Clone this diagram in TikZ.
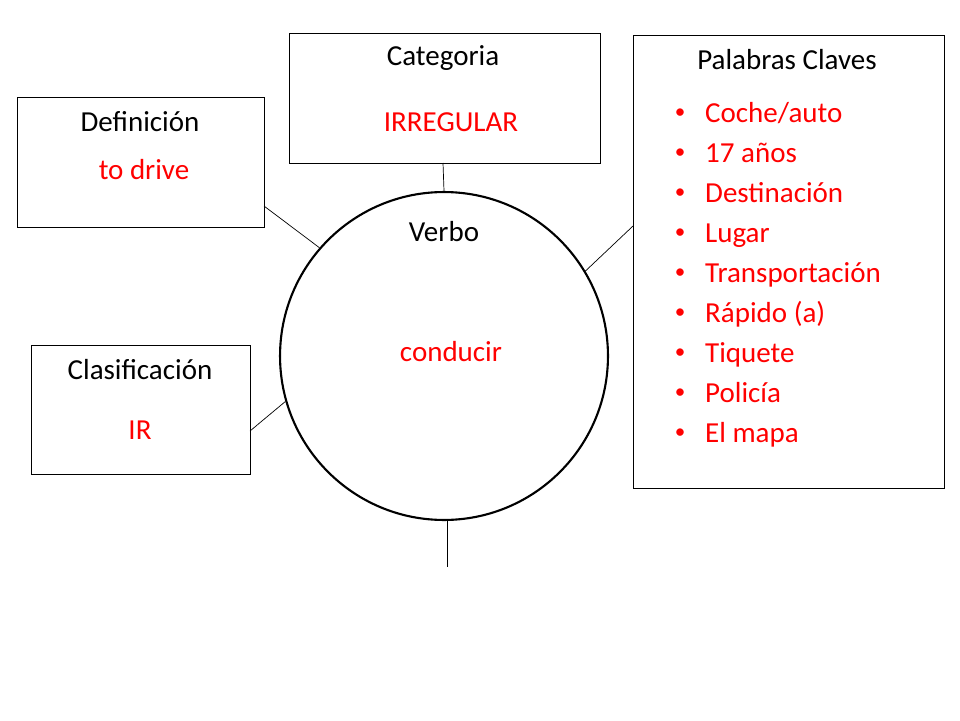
\documentclass[tikz,border=0pt]{standalone}
\usepackage{fontspec}
\setmainfont{Carlito}
\tikzset{
  lbl/.style={font=\fontsize{16.5}{20}\selectfont},
  red lbl/.style={lbl, red},
}
\begin{document}
\begin{tikzpicture}[x=0.02cm, y=-0.02cm]
    \useasboundingbox (0,0) rectangle (960,720);
    % boxes
    \draw (17,97) rectangle (264,227);
    \draw (289,33) rectangle (600,163);
    \draw (633,35) rectangle (944,488);
    \draw (31,345) rectangle (250,474);
    \node[draw, line width=1.2pt, circle, minimum size=6.56cm] (verb) at (444,356) {};
    % labels
    \node[lbl] (defn) at (140,122) {Definición};
    \node[red lbl] (defv) at (144,170) {to drive};
    \node[lbl] (cat) at (443,58) {Categoria};
    \node[red lbl] (catv) at (451,122) {IRREGULAR};
    \node[lbl] (clas) at (140,370) {Clasificación};
    \node[red lbl] (clasv) at (140,430) {IR};
    \node[lbl] (vb) at (444,232) {Verbo};
    \node[red lbl] (vbv) at (451,352) {conducir};
    \node[lbl] (pal) at (787,60) {Palabras Claves};
    \foreach \w [count=\i from 0] in {Coche/auto, 17 años, Destinación, Lugar,
      Transportación, Rápido (a), Tiquete, Policía, El mapa} {
      \node[red, font=\large] (b\i) at (680,114+40*\i) {\textbullet};
      \node[red lbl, anchor=base west] (w\i) at (699,122+40*\i) {\w};
    }
    % connectors
    \coordinate (catb) at (443,163);
    \coordinate (defr) at (264,206);
    \coordinate (palr) at (633,226);
    \coordinate (clasr) at (250,431);
    \coordinate (tail) at (447,567);
    \draw (catb) -- (verb.north);
    \draw (defr) -- (verb.139);
    \draw (palr) -- (verb.31);
    \draw (clasr) -- (verb.196);
    \draw (tail |- verb.south) -- (tail);
\end{tikzpicture}
\end{document}
